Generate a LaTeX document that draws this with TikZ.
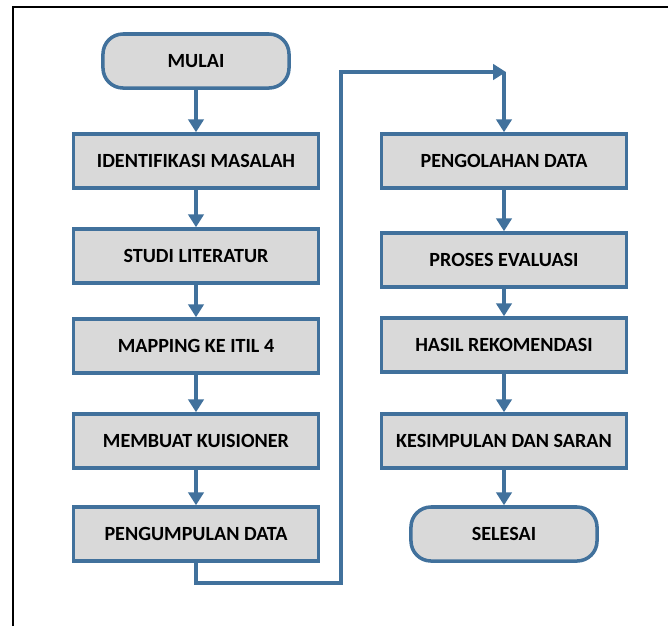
\documentclass[tikz,border=0pt]{standalone}
\usepackage{fontspec}
\setmainfont{Carlito}
\usetikzlibrary{arrows.meta,positioning}
\definecolor{flowblue}{HTML}{41719C}
\definecolor{boxgrey}{HTML}{D9D9D9}

\begin{document}
\begin{tikzpicture}[x=0.025cm, y=-0.025cm,
    every node/.style={draw=flowblue, fill=boxgrey, line width=2.5pt, align=center, font=\fontsize{14.3}{16}\selectfont\bfseries},
    stepbox/.style={minimum width=6.12cm, minimum height=1.35cm},
    endbox/.style={rounded corners=0.5cm, minimum width=4.65cm, minimum height=1.35cm},
    flow/.style={draw=flowblue, line width=2.5pt, -{Triangle[width=0.38cm, length=0.32cm]}}]

    \useasboundingbox (0,0) rectangle (668,626);
    \draw[line width=2pt] (13,626) -- (13,7) -- (668,7);

    % left column
    \node[endbox] (mulai) at (196,61) {MULAI};
    \node[stepbox] (identifikasi) at (196,161) {IDENTIFIKASI MASALAH};
    \node[stepbox] (studi) at (196,256) {STUDI LITERATUR};
    \node[stepbox] (mapping) at (196,346) {MAPPING KE ITIL 4};
    \node[stepbox] (kuisioner) at (196,441) {MEMBUAT KUISIONER};
    \node[stepbox] (pengumpulan) at (196,534) {PENGUMPULAN DATA};

    % right column
    \node[stepbox] (pengolahan) at (504,161) {PENGOLAHAN DATA};
    \node[stepbox] (evaluasi) at (504,260) {PROSES EVALUASI};
    \node[stepbox] (rekomendasi) at (504,345) {HASIL REKOMENDASI};
    \node[stepbox] (kesimpulan) at (504,441) {KESIMPULAN DAN SARAN};
    \node[endbox] (selesai) at (504,534) {SELESAI};

    \coordinate (naik) at (341,583);
    \coordinate (puncak) at (341,72);
    \coordinate (masuk) at (506,72);

    % arrows
    \draw[flow] (mulai) -- (identifikasi);
    \draw[flow] (identifikasi) -- (studi);
    \draw[flow] (studi) -- (mapping);
    \draw[flow] (mapping) -- (kuisioner);
    \draw[flow] (kuisioner) -- (pengumpulan);
    \draw[flow] (pengumpulan.south) |- (naik) -- (puncak) -- (masuk);
    \draw[flow] (pengolahan.north |- masuk) -- (pengolahan);
    \draw[flow] (pengolahan) -- (evaluasi);
    \draw[flow] (evaluasi) -- (rekomendasi);
    \draw[flow] (rekomendasi) -- (kesimpulan);
    \draw[flow] (kesimpulan) -- (selesai);

\end{tikzpicture}
\end{document}
